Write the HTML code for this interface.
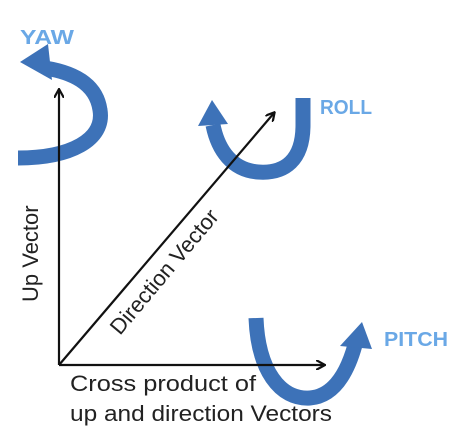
<!DOCTYPE html>
<html><head><style>html,body{margin:0;padding:0;background:#fff}</style></head><body>
<svg width="472" height="441" xmlns="http://www.w3.org/2000/svg" style="display:block">
<defs><marker id="a" markerWidth="10" markerHeight="10" refX="8" refY="5" orient="auto" markerUnits="userSpaceOnUse"><path d="M0,0 L9,5 L0,10" fill="none" stroke="#111" stroke-width="2.2"/></marker></defs>
<g fill="none" stroke="#3d72b8" stroke-width="15">
<path d="M18,158 C70,158 105,140 100,110 C96,82 70,72 45,68"/>
<path d="M303,98 L303,125 C303,160 285,174 258,172 C232,170 218,150 213,125"/>
<path d="M256,318 C258,370 280,400 310,398 C335,396 348,370 355,345"/>
</g>
<g fill="#3d72b8">
<polygon points="20,62 48,44 52,80"/>
<polygon points="212,100 198,126 228,124"/>
<polygon points="362,322 340,346 372,349"/>
</g>
<g stroke="#111" stroke-width="2.2" fill="none">
<line x1="59" y1="365" x2="59" y2="90" marker-end="url(#a)"/>
<line x1="59" y1="365" x2="324" y2="365" marker-end="url(#a)"/>
<line x1="59" y1="365" x2="274" y2="113" marker-end="url(#a)"/>
</g>
<g font-family="Liberation Sans, sans-serif" font-weight="bold" font-size="20" fill="#6aa8e6">
<text x="20" y="44" textLength="54" lengthAdjust="spacingAndGlyphs">YAW</text>
<text x="320" y="114" textLength="52" lengthAdjust="spacingAndGlyphs">ROLL</text>
<text x="384" y="346" textLength="64" lengthAdjust="spacingAndGlyphs">PITCH</text>
</g>
<g font-family="Liberation Sans, sans-serif" font-size="22" fill="#222">
<text transform="translate(38,302) rotate(-90)">Up Vector</text>
<text transform="translate(120,336) rotate(-50)">Direction Vector</text>
<text x="70" y="391" textLength="186" lengthAdjust="spacingAndGlyphs">Cross product of</text>
<text x="70" y="421" textLength="262" lengthAdjust="spacingAndGlyphs">up and direction Vectors</text>
</g>
</svg>
</body></html>
